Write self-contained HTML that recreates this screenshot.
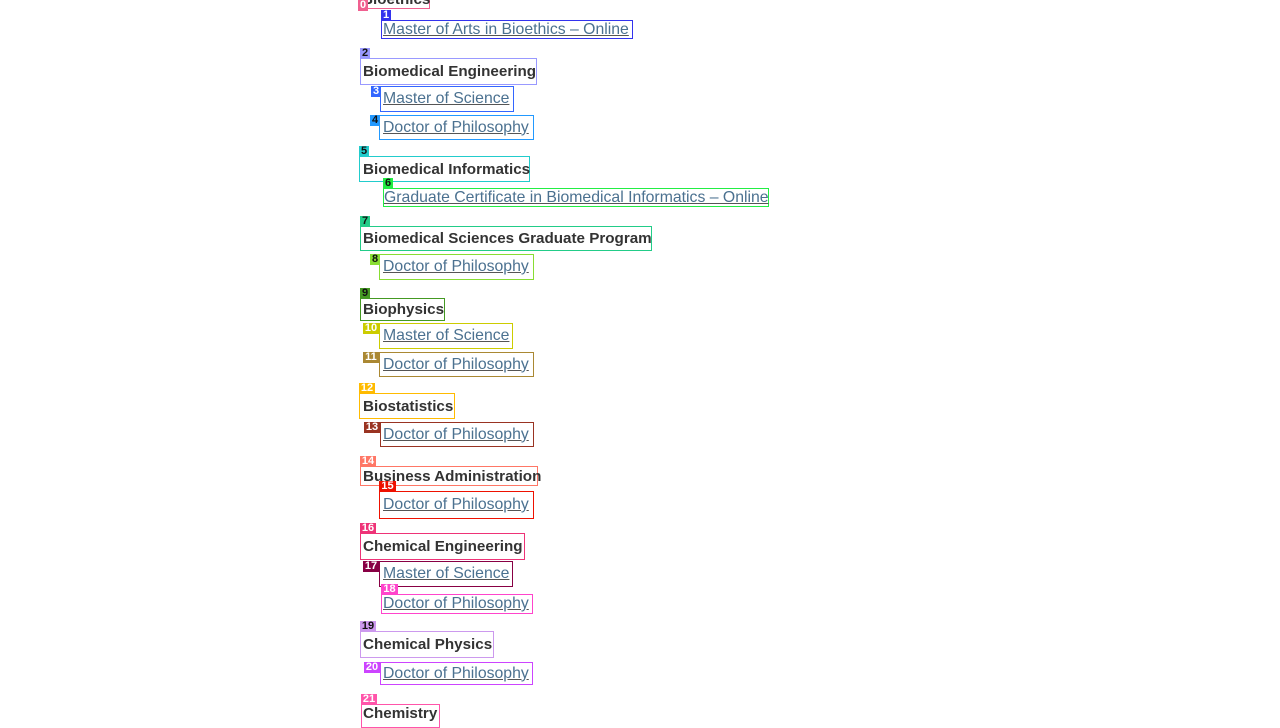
<!DOCTYPE html>
<html><head><meta charset="utf-8"><style>
body{margin:0;width:1280px;height:720px;overflow:hidden;background:#fff;position:relative;font-family:"Liberation Sans",Arial,sans-serif}
.b{position:absolute;box-sizing:border-box;border:1px solid;display:flex;align-items:center;padding-left:2px;font-size:16px;white-space:nowrap;overflow:visible}
.h{color:#333;font-weight:bold;font-size:15.2px}
.l{color:#4b7190;text-decoration:underline;text-decoration-color:#555;font-size:15.8px}
.t{position:absolute;height:11px;font-size:11px;line-height:11px;font-weight:bold;color:#fff;padding:0 1px;box-sizing:border-box;min-width:10px;text-align:center}
.d{color:#111}
</style></head><body>
<div class="b h" style="left:361px;top:-10px;width:69px;height:19px;border-color:#f06090;padding-left:0">Bioethics</div>
<div class="t" style="left:358px;top:0;background:#f06090">0</div>
<div class="b l" style="left:381px;top:20px;width:252px;height:19px;border-color:#3333ee;padding-left:1px">Master of Arts in Bioethics – Online</div>
<div class="t" style="left:381px;top:10px;background:#3333ee">1</div>
<div class="b h" style="left:360px;top:58px;width:177px;height:27px;border-color:#9999ff">Biomedical Engineering</div>
<div class="t d" style="left:360px;top:48px;background:#9999ff">2</div>
<div class="b l" style="left:380px;top:86px;width:134px;height:26px;border-color:#3366ff">Master of Science</div>
<div class="t" style="left:371px;top:86px;background:#3366ff">3</div>
<div class="b l" style="left:379px;top:115px;width:155px;height:25px;border-color:#2299ff;padding-left:3px">Doctor of Philosophy</div>
<div class="t d" style="left:370px;top:115px;background:#2299ff">4</div>
<div class="b h" style="left:359px;top:156px;width:171px;height:26px;border-color:#22cccc;padding-left:3px">Biomedical Informatics</div>
<div class="t d" style="left:359px;top:146px;background:#22cccc">5</div>
<div class="b l" style="left:383px;top:188px;width:386px;height:19px;border-color:#22ee44;padding-left:0">Graduate Certificate in Biomedical Informatics – Online</div>
<div class="t d" style="left:383px;top:178px;background:#22ee44">6</div>
<div class="b h" style="left:360px;top:226px;width:292px;height:25px;border-color:#22cc88">Biomedical Sciences Graduate Program</div>
<div class="t d" style="left:360px;top:216px;background:#22cc88">7</div>
<div class="b l" style="left:379px;top:254px;width:155px;height:26px;border-color:#88dd33;padding-left:3px">Doctor of Philosophy</div>
<div class="t d" style="left:370px;top:254px;background:#88dd33">8</div>
<div class="b h" style="left:360px;top:298px;width:85px;height:23px;border-color:#449922">Biophysics</div>
<div class="t d" style="left:360px;top:288px;background:#449922">9</div>
<div class="b l" style="left:379px;top:323px;width:134px;height:26px;border-color:#cccc00;padding-left:3px">Master of Science</div>
<div class="t" style="left:363px;top:323px;background:#cccc00;width:16px">10</div>
<div class="b l" style="left:379px;top:352px;width:155px;height:25px;border-color:#aa8833;padding-left:3px">Doctor of Philosophy</div>
<div class="t" style="left:363px;top:352px;background:#aa8833;width:16px">11</div>
<div class="b h" style="left:359px;top:393px;width:96px;height:26px;border-color:#ffbb00;padding-left:3px">Biostatistics</div>
<div class="t" style="left:359px;top:383px;background:#ffbb00;width:16px">12</div>
<div class="b l" style="left:380px;top:422px;width:154px;height:25px;border-color:#993322">Doctor of Philosophy</div>
<div class="t" style="left:364px;top:422px;background:#993322;width:16px">13</div>
<div class="b h" style="left:360px;top:466px;width:178px;height:20px;border-color:#ff7766">Business Administration</div>
<div class="t" style="left:360px;top:456px;background:#ff7766;width:16px">14</div>
<div class="b l" style="left:379px;top:491px;width:155px;height:28px;border-color:#ee1100;padding-left:3px">Doctor of Philosophy</div>
<div class="t" style="left:379px;top:481px;background:#ee1100;width:17px">15</div>
<div class="b h" style="left:360px;top:533px;width:165px;height:27px;border-color:#ee3377">Chemical Engineering</div>
<div class="t" style="left:360px;top:523px;background:#ee3377;width:16px">16</div>
<div class="b l" style="left:379px;top:561px;width:134px;height:26px;border-color:#880044;padding-left:3px">Master of Science</div>
<div class="t" style="left:363px;top:561px;background:#880044;width:16px">17</div>
<div class="b l" style="left:381px;top:594px;width:152px;height:20px;border-color:#ff44cc;padding-left:1px">Doctor of Philosophy</div>
<div class="t" style="left:381px;top:584px;background:#ff44cc;width:17px">18</div>
<div class="b h" style="left:360px;top:631px;width:134px;height:27px;border-color:#cc99ee">Chemical Physics</div>
<div class="t d" style="left:360px;top:621px;background:#cc99ee;width:16px">19</div>
<div class="b l" style="left:380px;top:662px;width:153px;height:23px;border-color:#cc44ff">Doctor of Philosophy</div>
<div class="t" style="left:364px;top:662px;background:#cc44ff;width:16px">20</div>
<div class="b h" style="left:361px;top:704px;width:79px;height:24px;border-color:#ff55aa;align-items:flex-start;padding-top:0;padding-left:1px">Chemistry</div>
<div class="t" style="left:361px;top:694px;background:#ff55aa;width:16px">21</div>
</body></html>
